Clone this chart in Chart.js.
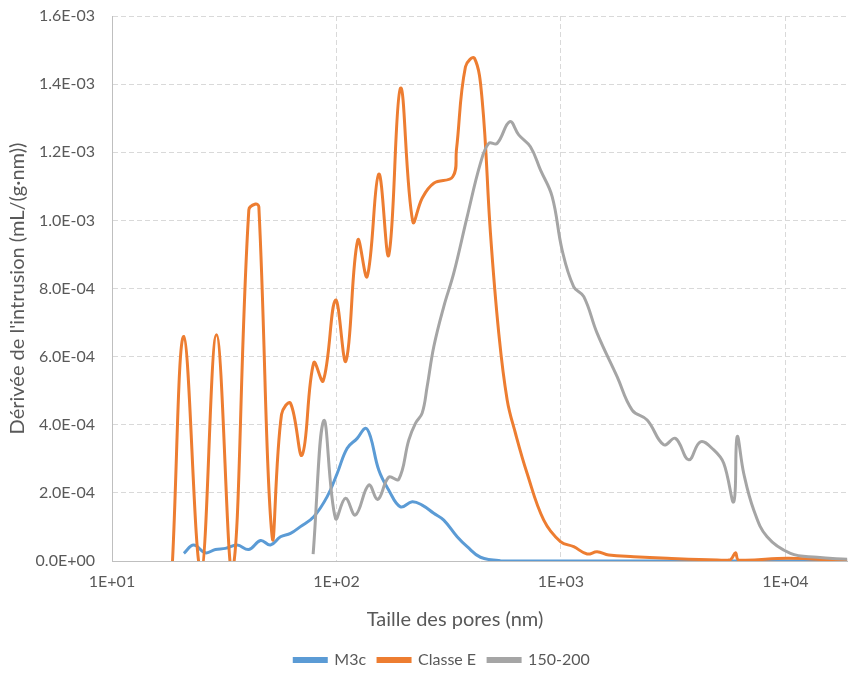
<!DOCTYPE html>
<html lang="fr">
<head>
<meta charset="utf-8">
<title>Dérivée de l'intrusion</title>
<script src="https://cdn.jsdelivr.net/npm/chart.js@4/dist/chart.umd.min.js"></script>
<style>
  html, body { margin: 0; padding: 0; background: #ffffff; }
  #wrap { width: 848px; height: 673px; }
  canvas { display: block; }
</style>
</head>
<body>
<div id="wrap"><canvas id="chart" width="848" height="673"></canvas></div>
<script>
// Pore sizes (nm) and derivative of intrusion (mL/(g·nm)) for each sample
const m3cSizes = [20.9, 23.1, 26.1, 28.9, 32.0, 36.1, 40.7, 45.9, 50.8, 56.3, 62.4, 69.1, 79.2, 90.9,
  100.7, 111.6, 123.7, 134.7, 141.7, 154.3, 171.0, 192.8, 217.4, 240.8, 271.3, 300.6, 344.8, 382.2,
  438.0, 537.8, 995, 18830];
const m3cValues = [0.226e-4, 0.47e-4, 0.24e-4, 0.34e-4, 0.37e-4, 0.47e-4, 0.34e-4, 0.60e-4, 0.47e-4,
  0.71e-4, 0.81e-4, 1.01e-4, 1.30e-4, 1.89e-4, 2.57e-4, 3.31e-4, 3.60e-4, 3.90e-4, 3.65e-4, 2.67e-4,
  2.08e-4, 1.59e-4, 1.74e-4, 1.64e-4, 1.40e-4, 1.20e-4, 0.71e-4, 0.42e-4, 0.11e-4, 0.01e-4, 0, 0];

const classeESizes = [18.6, 20.9, 24.9, 29.2, 34.4, 40.7, 43.6, 45.1, 51.7, 56.9, 62.4, 70.3, 79.2, 87.3,
  99.0, 110.2, 124.4, 137.0, 154.3, 171.0, 192.8, 218.8, 240.8, 271.3, 329.6, 342.3, 375.5, 411.9,
  445.7, 485.3, 528.4, 576.0, 627.1, 707.0, 838.3, 994.9, 1140, 1308, 1449, 1633, 2110, 2972, 4965,
  5689, 5989, 6194, 10345, 18830];
const classeEValues = [0, 6.59e-4, -0.3e-4, 6.64e-4, -0.3e-4, 10.31e-4, 10.48e-4, 10.40e-4, 0.71e-4,
  4.30e-4, 4.63e-4, 3.11e-4, 5.82e-4, 5.29e-4, 7.66e-4, 5.87e-4, 9.42e-4, 8.35e-4, 11.36e-4, 8.98e-4,
  13.88e-4, 9.96e-4, 10.65e-4, 11.09e-4, 11.28e-4, 12.07e-4, 14.51e-4, 14.76e-4, 13.53e-4, 9.62e-4,
  6.69e-4, 4.73e-4, 3.75e-4, 2.57e-4, 1.20e-4, 0.57e-4, 0.42e-4, 0.205e-4, 0.27e-4, 0.176e-4,
  0.126e-4, 0.08e-4, 0.03e-4, 0.04e-4, 0.24e-4, 0.03e-4, 0.08e-4, 0];

const s150Sizes = [78.7, 87.8, 99.0, 109.7, 121.5, 139.3, 152.8, 171.0, 189.5, 209.9, 224.8, 240.8,
  253.5, 271.3, 300.6, 333.0, 382.2, 438.0, 476.9, 519.8, 591.5, 648.6, 731.3, 810.3, 913.8, 1012,
  1140, 1264, 1449, 1779, 2076, 2421, 2871, 3236, 3709, 4182, 4794, 5311, 5886, 6094, 6521, 7225,
  8286, 10527, 13842, 18830];
const s150Values = [0.20e-4, 4.12e-4, 1.25e-4, 1.84e-4, 1.35e-4, 2.23e-4, 1.81e-4, 2.46e-4, 2.40e-4,
  3.55e-4, 4.04e-4, 4.34e-4, 5.12e-4, 6.29e-4, 7.47e-4, 8.45e-4, 10.11e-4, 11.68e-4, 12.26e-4,
  12.26e-4, 12.90e-4, 12.51e-4, 12.16e-4, 11.48e-4, 10.70e-4, 9.13e-4, 8.05e-4, 7.76e-4, 6.69e-4,
  5.41e-4, 4.43e-4, 4.14e-4, 3.41e-4, 3.60e-4, 2.97e-4, 3.50e-4, 3.26e-4, 2.87e-4, 1.74e-4, 3.65e-4,
  2.57e-4, 1.50e-4, 0.71e-4, 0.226e-4, 0.11e-4, 0.05e-4];

const seriesNames = ['M3c', 'Classe E', '150-200'];
const seriesColors = ['#5B9BD5', '#ED7D31', '#A5A5A5'];

// Axis ticks
const xTickValues = [10, 100, 1000, 10000];
const yTickValues = [0, 0.0002, 0.0004, 0.0006, 0.0008, 0.0010, 0.0012, 0.0014, 0.0016];
const xMin = 10, xMax = 19000;

const xAxisTitle = 'Taille des pores (nm)';
const yAxisTitle = "Dérivée de l'intrusion (mL/(g·nm))";

const FONT = 'Lato';
const TEXT_COLOR = '#595959';

function pairs(xs, ys) {
  return xs.map((x, i) => ({ x: x, y: ys[i] }));
}

// Excel-style scientific labels: 1.6E-03, 1E+04
function sciLabel(v, digits) {
  const [mant, exp] = Number(v).toExponential(digits).split('e');
  const e = parseInt(exp, 10);
  return mant + 'E' + (e < 0 ? '-' : '+') + String(Math.abs(e)).padStart(2, '0');
}

const xTitlePlugin = {
  id: 'xTitle',
  afterDraw(chart) {
    const ctx = chart.ctx;
    ctx.save();
    ctx.font = '20px ' + FONT;
    ctx.fillStyle = TEXT_COLOR;
    ctx.textAlign = 'center';
    ctx.textBaseline = 'middle';
    ctx.fillText(xAxisTitle, 455, 620);
    ctx.restore();
  }
};

// place the bottom legend a little right of and below its default spot
const legendShift = {
  id: 'legendShift',
  afterLayout(chart) {
    const lg = chart.legend;
    if (lg) {
      lg.left += 18;
      lg.right += 18;
      lg.top += 9;
      lg.bottom += 9;
    }
  }
};

const seriesSizes = [m3cSizes, classeESizes, s150Sizes];
const seriesValues = [m3cValues, classeEValues, s150Values];

new Chart(document.getElementById('chart'), {
  type: 'line',
  data: {
    datasets: seriesNames.map((name, i) => ({
      label: name,
      data: pairs(seriesSizes[i], seriesValues[i]),
      borderColor: seriesColors[i],
      backgroundColor: seriesColors[i],
      borderWidth: 3,
      pointRadius: 0,
      tension: 0.4,
      fill: false,
      order: 3 - i
    }))
  },
  options: {
    responsive: false,
    devicePixelRatio: 1,
    animation: false,
    layout: { padding: { top: 16, right: 0, left: 0, bottom: 4 } },
    plugins: {
      tooltip: { enabled: false },
      legend: {
        position: 'bottom',
        labels: {
          font: { family: FONT, size: 16 },
          color: TEXT_COLOR,
          boxWidth: 32,
          boxHeight: 3,
          padding: 12,
          sort: (a, b) => a.datasetIndex - b.datasetIndex
        }
      }
    },
    scales: {
      x: {
        type: 'logarithmic',
        min: xMin,
        max: xMax,
        afterBuildTicks: (scale) => { scale.ticks = xTickValues.map(v => ({ value: v })); },
        afterFit: (scale) => {
          const legendH = scale.chart.legend ? scale.chart.legend.height : 0;
          scale.height = 673 - 561 - legendH - 4;
          scale.paddingLeft = 0;
          scale.paddingRight = 0;
        },
        ticks: {
          font: { family: FONT, size: 16 },
          color: TEXT_COLOR,
          padding: 11,
          maxRotation: 0,
          autoSkip: false,
          callback: (v) => sciLabel(v, 0)
        },
        grid: { color: '#D9D9D9', lineWidth: 1, drawTicks: false },
        border: { display: true, color: '#BFBFBF', width: 1, dash: [5, 3] }
      },
      y: {
        min: 0,
        max: 0.0016,
        afterBuildTicks: (scale) => { scale.ticks = yTickValues.map(v => ({ value: v })); },
        afterFit: (scale) => {
          scale.width = 112;
          scale.paddingTop = 0;
          scale.paddingBottom = 0;
        },
        ticks: {
          font: { family: FONT, size: 16 },
          color: TEXT_COLOR,
          padding: 17,
          callback: (v) => sciLabel(v, 1)
        },
        title: {
          display: true,
          text: yAxisTitle,
          font: { family: FONT, size: 20 },
          color: TEXT_COLOR,
          padding: { top: 6, bottom: 0 }
        },
        grid: { color: '#D9D9D9', lineWidth: 1, drawTicks: false },
        border: { display: true, color: '#BFBFBF', width: 1, dash: [5, 3] }
      }
    }
  },
  plugins: [xTitlePlugin, legendShift]
});
</script>
</body>
</html>
